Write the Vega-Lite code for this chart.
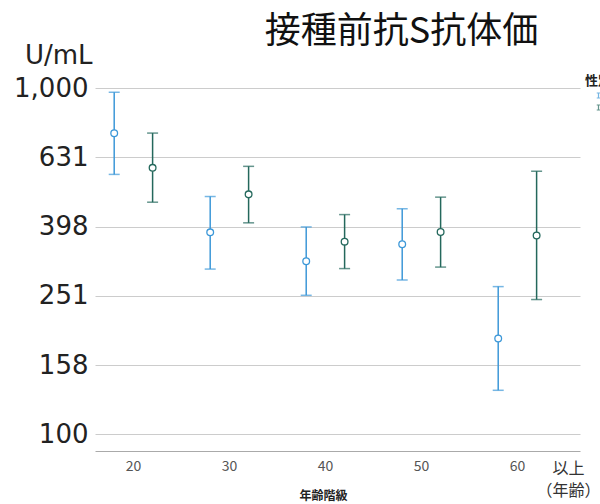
{
  "$schema": "https://vega.github.io/schema/vega-lite/v6.json",
  "autosize": "none",
  "width": 485,
  "height": 363,
  "padding": {"left": 95, "top": 88, "right": 25, "bottom": 53},
  "background": "white",
  "title": {
    "text": "接種前抗S抗体価",
    "font": "Noto Sans CJK JP",
    "fontSize": 36,
    "fontWeight": "normal",
    "color": "#111111",
    "anchor": "middle",
    "dx": 64,
    "offset": -9
  },
  "config": {
    "view": {"stroke": null},
    "font": "Noto Sans CJK JP"
  },
  "data": {
    "values": [
      {"age": 20, "sex": "女性", "mid": 740, "lo": 563, "hi": 972},
      {"age": 20, "sex": "男性", "mid": 588, "lo": 468, "hi": 741},
      {"age": 30, "sex": "女性", "mid": 383, "lo": 300, "hi": 486},
      {"age": 30, "sex": "男性", "mid": 493, "lo": 408, "hi": 594},
      {"age": 40, "sex": "女性", "mid": 316, "lo": 252, "hi": 397},
      {"age": 40, "sex": "男性", "mid": 360, "lo": 301, "hi": 431},
      {"age": 50, "sex": "女性", "mid": 354, "lo": 279, "hi": 448},
      {"age": 50, "sex": "男性", "mid": 384, "lo": 304, "hi": 484},
      {"age": 60, "sex": "女性", "mid": 189, "lo": 134, "hi": 267},
      {"age": 60, "sex": "男性", "mid": 375, "lo": 245, "hi": 575}
    ]
  },
  "encoding": {
    "x": {
      "field": "age",
      "type": "ordinal",
      "scale": {"paddingInner": 0.2, "paddingOuter": 0.126, "align": 0},
      "axis": null
    },
    "xOffset": {
      "field": "sex",
      "type": "nominal",
      "scale": {"paddingInner": 0, "paddingOuter": 0}
    },
    "color": {
      "field": "sex",
      "type": "nominal",
      "scale": {"domain": ["女性", "男性"], "range": ["#3d98d8", "#24685c"]},
      "legend": {
        "title": "性別",
        "orient": "none",
        "legendX": 490,
        "legendY": -13,
        "padding": 0,
        "titleFontSize": 13,
        "titleFontWeight": "bold",
        "titleColor": "#222222",
        "titlePadding": 4,
        "symbolType": "M0,-1V1M-0.7,-1H0.7M-0.7,1H0.7",
        "symbolSize": 25,
        "symbolStrokeWidth": 1.2,
        "symbolOffset": 10,
        "symbolFillColor": "transparent",
        "labelFontSize": 6,
        "rowPadding": 1
      }
    }
  },
  "resolve": {"axis": {"x": "independent"}},
  "layer": [
    {
      "mark": {"type": "rule", "strokeWidth": 1.5},
      "encoding": {
        "x": {
          "field": "age",
          "type": "ordinal",
          "axis": {
            "orient": "bottom",
            "title": "年齢階級",
            "titleFont": "Noto Sans CJK JP",
            "titleFontSize": 12,
            "titleFontWeight": "bold",
            "titleColor": "#222222",
            "titleX": 228,
            "titleY": 48,
            "titleBaseline": "alphabetic",
            "labelAngle": 0,
            "labelFont": "Noto Sans CJK JP",
            "labelFontSize": 14,
            "labelColor": "#555555",
            "labelPadding": 8,
            "ticks": false,
            "grid": false,
            "domain": true,
            "domainColor": "#aaaaaa",
            "domainWidth": 1
          }
        },
        "y": {
          "field": "lo",
          "type": "quantitative",
          "scale": {"type": "log", "domain": [89.5, 1000], "nice": false},
          "axis": {
            "title": "U/mL",
            "titleAngle": 0,
            "titleFont": "DejaVu Sans",
            "titleFontSize": 26,
            "titleFontWeight": "normal",
            "titleColor": "#222222",
            "titleAlign": "right",
            "titleBaseline": "alphabetic",
            "titleX": -3,
            "titleY": -25,
            "values": [100, 158.49, 251.19, 398.11, 630.96, 1000],
            "format": ",.0f",
            "labelFont": "DejaVu Sans",
            "labelFontSize": 26,
            "labelColor": "#222222",
            "labelPadding": 7,
            "ticks": false,
            "domain": false,
            "grid": true,
            "gridColor": "#cccccc",
            "gridWidth": 1
          }
        },
        "y2": {"field": "hi"}
      }
    },
    {
      "mark": {"type": "tick", "size": 11, "thickness": 1.5},
      "encoding": {"y": {"field": "lo", "type": "quantitative"}}
    },
    {
      "mark": {"type": "tick", "size": 11, "thickness": 1.5},
      "encoding": {
        "x": {
          "field": "age",
          "type": "ordinal",
          "axis": {
            "orient": "bottom",
            "title": null,
            "values": [60],
            "labelExpr": "['以上', '（年齢）']",
            "labelAngle": 0,
            "labelFont": "Noto Sans CJK JP",
            "labelFontSize": 16,
            "labelLineHeight": 22,
            "labelColor": "#333333",
            "labelPadding": 9,
            "labelOffset": 51,
            "labelBound": false,
            "labelOverlap": false,
            "ticks": false,
            "grid": false,
            "domain": false
          }
        },
        "y": {"field": "hi", "type": "quantitative"}
      }
    },
    {
      "mark": {"type": "point", "shape": "circle", "filled": false, "fill": "white", "fillOpacity": 1, "size": 45, "strokeWidth": 1.3, "opacity": 1},
      "encoding": {"y": {"field": "mid", "type": "quantitative"}}
    }
  ]
}
